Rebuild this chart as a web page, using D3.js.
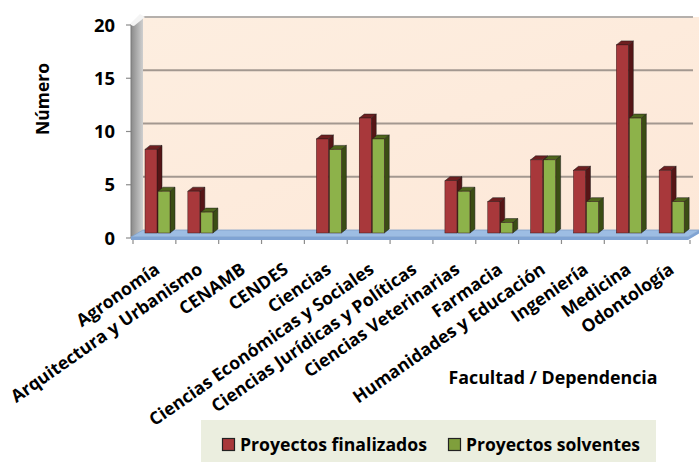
<!DOCTYPE html>
<html><head><meta charset="utf-8">
<script src="https://cdn.jsdelivr.net/npm/d3@7/dist/d3.min.js"></script>
<style>
html,body{margin:0;padding:0;background:#fff;}
svg text{font-family:"Open Sans",Lato,sans-serif;font-weight:700;fill:#000;}
</style></head><body>
<svg id="c" width="699" height="462"></svg>
<script>
const categories = ["Agronomía","Arquitectura y Urbanismo","CENAMB","CENDES","Ciencias","Ciencias Económicas y Sociales","Ciencias Jurídicas y Políticas","Ciencias Veterinarias","Farmacia","Humanidades y Educación","Ingeniería","Medicina","Odontología"];
const finalizados = [8,4,0,0,9,11,0,5,3,7,6,18,6];
const solventes   = [4,2,0,0,8,9,0,4,1,7,3,11,3];
const seriesNames = ["Proyectos finalizados","Proyectos solventes"];
const yTicks = [0,5,10,15,20];

const svg = d3.select("#c");
const defs = svg.append("defs");

// scale a text's font size so that its rendered length matches a target width
function fit(sel, base, target){
  sel.style("font-size", base+"px");
  const w = sel.node().getComputedTextLength();
  const s = base*target/w;
  sel.style("font-size", s.toFixed(2)+"px");
  return s;
}

const xL = 133, xR = 690, DX = 10, DY = -8;
const x = d3.scaleBand().domain(categories).range([xL, xR]);
const yFront = d3.scaleLinear().domain([0,20]).range([238,25]);
const yBack  = d3.scaleLinear().domain([0,20]).range([230,17]);
const yBar   = d3.scaleLinear().domain([0,20]).range([233,24]);

const gw = defs.append("linearGradient").attr("id","wall").attr("x1",0).attr("x2",1).attr("y1",0).attr("y2",0);
gw.append("stop").attr("offset",0).attr("stop-color","#8a8a8a");
gw.append("stop").attr("offset",1).attr("stop-color","#cfcfcf");
const gb = defs.append("linearGradient").attr("id","back").attr("x1",0).attr("x2",1).attr("y1",0).attr("y2",1);
gb.append("stop").attr("offset",0).attr("stop-color","#fdeee0");
gb.append("stop").attr("offset",1).attr("stop-color","#fde8d8");

svg.append("rect").attr("x",xL+DX).attr("y",yBack(20)).attr("width",xR-xL+3).attr("height",yBack(0)-yBack(20)).attr("fill","url(#back)");
svg.selectAll(".grid").data(yTicks.filter(d=>d>0)).join("line")
  .attr("x1",xL+DX).attr("x2",xR+DX-7).attr("y1",d=>yBack(d)).attr("y2",d=>yBack(d))
  .attr("stroke",d=>d===20?"#b5b0ac":"#a39890").attr("stroke-width",2);
svg.append("path").attr("d",`M${xL-2},${yFront(20)} L${xL+DX},${yBack(20)} L${xL+DX},${yBack(0)} L${xL-2},${yFront(0)} Z`).attr("fill","url(#wall)");
svg.append("path").attr("d",`M${xL-4},${yFront(20)} L${xL+DX-3},${yBack(20)-3} L${xL+DX+2},${yBack(20)} L${xL+1},${yFront(20)+1} Z`).attr("fill","#f4f4f4");
svg.selectAll(".yt").data(yTicks).join("line")
  .attr("x1",xL-7).attr("x2",xL-2).attr("y1",d=>yFront(d)).attr("y2",d=>yFront(d))
  .attr("stroke","#8c8c8c").attr("stroke-width",1.2);
svg.append("line").attr("x1",xL-2).attr("x2",xL-2).attr("y1",yFront(20)).attr("y2",yFront(0)).attr("stroke","#7a7a7a").attr("stroke-width",1);

svg.append("path").attr("d",`M${xL-2},${yFront(0)-1} L${xR-2},${yFront(0)-1} L${xR+DX},${yBack(0)} L${xL+DX},${yBack(0)} Z`).attr("fill","#9dbde3").attr("stroke","#7f9fc8").attr("stroke-width",0.8);
svg.append("path").attr("d",`M${xL-2},${yFront(0)-1} L${xR-2},${yFront(0)-1} L${xR+DX},${yBack(0)} L${xR+DX},${yBack(0)+3} L${xR-2},${yFront(0)+2} L${xL-2},${yFront(0)+2} Z`).attr("fill","#7fa3d3");
svg.selectAll(".xt").data(d3.range(categories.length+1)).join("line")
  .attr("x1",i=>xL+i*x.step()).attr("x2",i=>xL+i*x.step())
  .attr("y1",yFront(0)+2).attr("y2",yFront(0)+6).attr("stroke","#8c8c8c").attr("stroke-width",1.2);

const bw = 12, bd = 5, bdy = -4;
const colors = [
  {front:"#a8383b", side:"#561516", top:"#6e1f20"},
  {front:"#8db24a", side:"#3b4d14", top:"#4f661c"}
];
function drawBar(g, x0, v, c){
  const yt = yBar(v), yb = yBar(0);
  g.append("path").attr("d",`M${x0+bw},${yt} L${x0+bw+bd},${yt+bdy} L${x0+bw+bd},${yb+bdy} L${x0+bw},${yb} Z`).attr("fill",c.side).attr("stroke","#1a1a1a").attr("stroke-width",0.5);
  g.append("path").attr("d",`M${x0},${yt} L${x0+bd},${yt+bdy} L${x0+bw+bd},${yt+bdy} L${x0+bw},${yt} Z`).attr("fill",c.top).attr("stroke","#1a1a1a").attr("stroke-width",0.5);
  g.append("rect").attr("x",x0).attr("y",yt).attr("width",bw).attr("height",yb-yt).attr("fill",c.front).attr("stroke","#3a1a1a").attr("stroke-width",0.5);
}
const gBars = svg.append("g");
categories.forEach((cat,i)=>{
  const b0 = x(cat) + 12;
  [finalizados[i], solventes[i]].forEach((v,s)=>{
    if(v>0) drawBar(gBars, b0 + s*13, v, colors[s]);
  });
});

// y tick labels
const yl = svg.selectAll(".yl").data(yTicks).join("text")
  .attr("x",115).attr("y",d=>yFront(d)).attr("dy","0.36em").attr("text-anchor","end").text(d=>d);
const tsz = fit(yl.filter(d=>d===20), 16, 21);
yl.style("font-size", tsz.toFixed(2)+"px");

// y title
const yt = svg.append("text").attr("transform","translate(43,99) rotate(-90)").attr("text-anchor","middle").attr("dy","0.35em").text("Número");
fit(yt, 14, 72);

// category labels
const cl = svg.selectAll(".cl").data(categories).join("text")
  .attr("transform",d=>`translate(${x(d)+x.bandwidth()/2+3},${267}) rotate(-35)`)
  .attr("text-anchor","end").attr("dy","0.35em").text(d=>d);
const csz = fit(cl.filter(d=>d==="Arquitectura y Urbanismo"), 16, 229);
cl.style("font-size", csz.toFixed(2)+"px");

// x title
const xt = svg.append("text").attr("x",553).attr("y",378).attr("dy","0.35em").attr("text-anchor","middle").text("Facultad / Dependencia");
fit(xt, 15, 209);

// legend
svg.append("rect").attr("x",201).attr("y",420).attr("width",455).attr("height",42).attr("fill","#ebeedf");
const legX = [222, 448], legW = [187, 174];
seriesNames.forEach((n,i)=>{
  svg.append("rect").attr("x",legX[i]+0.5).attr("y",438.5).attr("width",12).attr("height",12)
    .attr("fill",i===0?"#a8383b":"#7f9f3c").attr("stroke","#222").attr("stroke-width",1.2);
  const t = svg.append("text").attr("x",legX[i]+18).attr("y",445).attr("dy","0.35em").text(n);
  fit(t, 16, legW[i]);
});
</script></body></html>
